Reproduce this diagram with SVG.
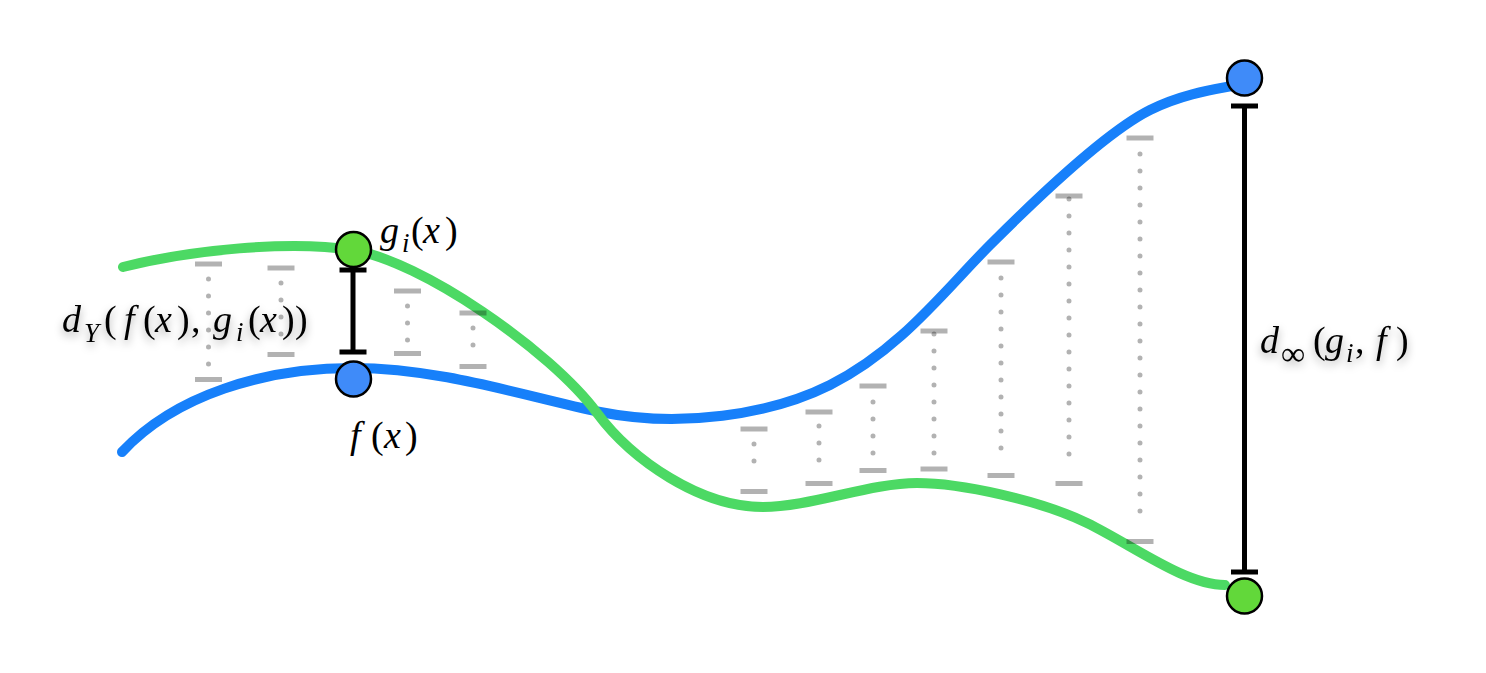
<svg xmlns="http://www.w3.org/2000/svg" width="1486" height="673" viewBox="0 0 1486 673">
<defs>
<style>
.curve{fill:none;stroke-width:10;stroke-linecap:round;stroke-linejoin:round}
.blue{stroke:#1780fa}
.green{stroke:#4cd964}
.bar{fill:#000;fill-opacity:0.3}
.dots{stroke:#000;stroke-opacity:0.3;stroke-width:5;stroke-linecap:round;stroke-dasharray:0 17;fill:none}
.meas{stroke:#000;stroke-width:5;fill:none}
.cap{fill:#000}
.node{stroke:#000;stroke-width:2.5}
.lbl{font-family:"Liberation Serif","Times New Roman",serif;font-size:38px;fill:#000}
.it{font-style:italic}
.sub{font-size:27px}
.inf{font-size:34px}
</style>
<filter id="sh" x="-20%" y="-50%" width="140%" height="200%">
<feDropShadow dx="0" dy="4" stdDeviation="4" flood-color="#000" flood-opacity="0.35"/>
</filter>
</defs>

<g id="connectors">
<path id="f-curve" class="curve blue" d="M122,452 C175,395 265,368 352,368 C440,368 520,395 600,412 C680,428 770,415 830,385 C900,350 945,290 990,245 C1050,185 1110,130 1150,110 C1180,95 1210,90 1232,86"/>
<path id="g-curve" class="curve green" d="M123,267 C190,250 290,240 352,250 C420,260 550,350 597,413 C632,460 700,507 763,507 C810,507 870,483 917,483 C960,483 1040,500 1087,523 C1134,546 1185,585 1225,585"/>

<g id="samples">
<path class="dots" d="M208.5,279 V366 M281,283 V342 M407.5,306 V341 M473,328 V352 M754,444 V478 M819,426 V470 M873,402 V457 M934,334 V455 M1001,278 V462 M1069,199 V470 M1140,154 V528"/>
<rect class="bar" x="195" y="261.5" width="27" height="5"/>
<rect class="bar" x="195" y="377" width="27" height="5"/>
<rect class="bar" x="267.5" y="265.5" width="27" height="5"/>
<rect class="bar" x="267.5" y="352" width="27" height="5"/>
<rect class="bar" x="394" y="288.5" width="27" height="5"/>
<rect class="bar" x="394" y="351" width="27" height="5"/>
<rect class="bar" x="459.5" y="310.5" width="27" height="5"/>
<rect class="bar" x="459.5" y="364" width="27" height="5"/>
<rect class="bar" x="740.5" y="426.5" width="27" height="5"/>
<rect class="bar" x="740.5" y="489" width="27" height="5"/>
<rect class="bar" x="805.5" y="409.5" width="27" height="5"/>
<rect class="bar" x="805.5" y="481" width="27" height="5"/>
<rect class="bar" x="859.5" y="383.5" width="27" height="5"/>
<rect class="bar" x="859.5" y="468" width="27" height="5"/>
<rect class="bar" x="920.5" y="328.5" width="27" height="5"/>
<rect class="bar" x="920.5" y="466.5" width="27" height="5"/>
<rect class="bar" x="987.5" y="259.5" width="27" height="5"/>
<rect class="bar" x="987.5" y="473" width="27" height="5"/>
<rect class="bar" x="1055.5" y="193.5" width="27" height="5"/>
<rect class="bar" x="1055.5" y="481" width="27" height="5"/>
<rect class="bar" x="1126.5" y="135.5" width="27" height="5"/>
<rect class="bar" x="1126.5" y="539" width="27" height="5"/>
</g>

<g id="dY-measure">
<path class="meas" d="M353,270 V352"/>
<rect class="cap" x="339.5" y="267.5" width="27" height="5"/>
<rect class="cap" x="339.5" y="349.5" width="27" height="5"/>
</g>
<g id="dinf-measure">
<path class="meas" d="M1244.5,106 V572"/>
<rect class="cap" x="1231" y="103.5" width="27" height="5"/>
<rect class="cap" x="1231" y="569.5" width="27" height="5"/>
</g>
</g>

<g id="node-gx">
<circle class="node" cx="353.5" cy="249.5" r="17.5" fill="#62d83a"/>
<text class="lbl"><tspan class="it" x="380" y="243">g</tspan><tspan class="it sub" x="402" y="252">i</tspan><tspan x="411" y="243">(</tspan><tspan class="it" x="423" y="243">x</tspan><tspan x="445" y="243">)</tspan></text>
</g>
<g id="node-fx">
<circle class="node" cx="353.5" cy="379" r="17.5" fill="#3f8bf9"/>
<text class="lbl"><tspan class="it" x="350" y="448">f</tspan><tspan x="371" y="448">(</tspan><tspan class="it" x="384" y="448">x</tspan><tspan x="405" y="448">)</tspan></text>
</g>
<g id="node-f-end">
<circle class="node" cx="1244.5" cy="78" r="17.5" fill="#3f8bf9"/>
</g>
<g id="node-g-end">
<circle class="node" cx="1244.5" cy="596" r="17.5" fill="#62d83a"/>
</g>

<g id="label-dY" filter="url(#sh)">
<text class="lbl"><tspan class="it" x="62" y="332">d</tspan><tspan class="it sub" x="84" y="342">Y</tspan><tspan x="104" y="332">(</tspan><tspan class="it" x="124" y="332">f</tspan><tspan x="143" y="332">(</tspan><tspan class="it" x="155" y="332">x</tspan><tspan x="177" y="332">)</tspan><tspan x="191" y="332">,</tspan><tspan class="it" x="213" y="332">g</tspan><tspan class="it sub" x="236" y="341">i</tspan><tspan x="248" y="332">(</tspan><tspan class="it" x="260" y="332">x</tspan><tspan x="282" y="332">)</tspan><tspan x="295" y="332">)</tspan></text>
</g>
<g id="label-dinf" filter="url(#sh)">
<text class="lbl"><tspan class="it" x="1260" y="353">d</tspan><tspan class="inf" x="1281" y="365">∞</tspan><tspan x="1313" y="353">(</tspan><tspan class="it" x="1325" y="353">g</tspan><tspan class="it sub" x="1346" y="362">i</tspan><tspan x="1355" y="353">,</tspan><tspan class="it" x="1376" y="353">f</tspan><tspan x="1396" y="353">)</tspan></text>
</g>
</svg>
